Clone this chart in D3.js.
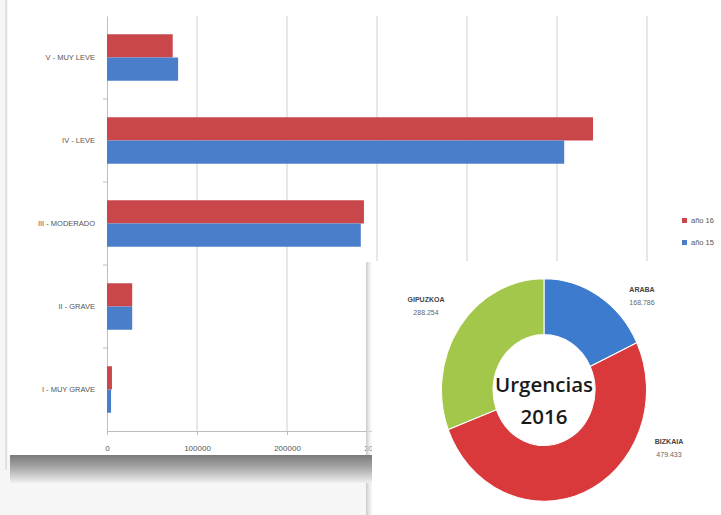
<!DOCTYPE html>
<html><head><meta charset="utf-8">
<script src="https://cdn.jsdelivr.net/npm/d3@7"></script>
<style>
html,body{margin:0;padding:0;background:#f6f6f6;}
svg{display:block;}
</style></head>
<body>
<svg id="c" width="721" height="515"></svg>
<script>
const categories = ["V - MUY LEVE","IV - LEVE","III - MODERADO","II - GRAVE","I - MUY GRAVE"];
const values16 = [73000, 540000, 285500, 28000, 5500];
const values15 = [79000, 508000, 282000, 28000, 4500];
const seriesNames = ["año 16","año 15"];
const xTicks = [0,100000,200000,300000,400000,500000,600000];
const provinces = ["ARABA","BIZKAIA","GIPUZKOA"];
const provinceValues = [168786, 479433, 288254];
const provinceLabels = ["168.786","479.433","288.254"];
const centerText = ["Urgencias","2016"];

const svg = d3.select("#c");
const red = "#c9474a", blue = "#4a7ecb";

// panel background
svg.append("rect").attr("x",8).attr("y",0).attr("width",713).attr("height",456).attr("fill","#ffffff");
// bottom shadow
const defs = svg.append("defs");
const g1 = defs.append("linearGradient").attr("id","sh").attr("x1",0).attr("y1",0).attr("x2",0).attr("y2",1);
g1.append("stop").attr("offset",0).attr("stop-color","#7a7a7a");
g1.append("stop").attr("offset",0.45).attr("stop-color","#a8a8a8");
g1.append("stop").attr("offset",1).attr("stop-color","#f0f0f0");
svg.append("line").attr("x1",6).attr("x2",6).attr("y1",0).attr("y2",470).attr("stroke","#e2e2e2").attr("stroke-width",2);

const x = d3.scaleLinear().domain([0,600000]).range([107,647]);
const y = d3.scaleBand().domain(categories).range([16,431]).paddingInner(0.44).paddingOuter(0.22);
const ys = d3.scaleBand().domain(seriesNames).range([0,y.bandwidth()]);

// gridlines
svg.append("g").selectAll("line").data(xTicks.slice(1)).join("line")
  .attr("x1",d=>x(d)).attr("x2",d=>x(d)).attr("y1",16).attr("y2",431)
  .attr("stroke","#cfcfcf").attr("stroke-width",1);

// x axis
const xa = svg.append("g").attr("transform","translate(0,431)")
  .call(d3.axisBottom(x).tickValues(xTicks).tickFormat(d3.format("d")).tickSize(4).tickPadding(10));
xa.select(".domain").attr("stroke","#bdbdbd");
xa.selectAll(".tick line").attr("stroke","#bdbdbd");
xa.selectAll("text").attr("fill","#555").attr("font-size",8).attr("font-family","Liberation Sans, Arial");

// y axis
const ya = svg.append("g").attr("transform","translate(107,0)")
  .call(d3.axisLeft(y).tickSize(0).tickPadding(12));
ya.select(".domain").attr("stroke","#bdbdbd");
ya.selectAll("text").attr("fill","#555").attr("font-size",7.5).attr("font-family","Liberation Sans, Arial");
// small separators
const seps = categories.slice(1).map((c,i)=>y(c)-y.step()*y.paddingInner()/2);
svg.append("g").selectAll("line").data(seps).join("line")
  .attr("x1",103).attr("x2",107).attr("y1",d=>d).attr("y2",d=>d).attr("stroke","#bdbdbd");

// bars
const rows = categories.map((c,i)=>({c, v:[values16[i], values15[i]]}));
const gr = svg.append("g");
rows.forEach(r=>{
  gr.selectAll(null).data(seriesNames.map((s,j)=>({s, v:r.v[j], j}))).join("rect")
    .attr("x",x(0)).attr("y",d=>y(r.c)+ys(d.s))
    .attr("width",d=>x(d.v)-x(0)).attr("height",ys.bandwidth())
    .attr("fill",d=>d.j===0?red:blue);
});

// legend
const lg = svg.append("g");
seriesNames.forEach((s,i)=>{
  lg.append("rect").attr("x",682).attr("y",218+i*22).attr("width",5).attr("height",5).attr("fill",i===0?red:blue);
  lg.append("text").attr("x",691).attr("y",223+i*22).text(s).attr("font-size",7.5).attr("fill","#555").attr("font-family","Liberation Sans, Arial");
});

// donut panel
const g2 = defs.append("linearGradient").attr("id","ls").attr("x1",0).attr("y1",0).attr("x2",1).attr("y2",0);
g2.append("stop").attr("offset",0).attr("stop-color","#c8c8c8");
g2.append("stop").attr("offset",1).attr("stop-color","#ffffff").attr("stop-opacity",0);
svg.append("rect").attr("x",366).attr("y",262).attr("width",8).attr("height",253).attr("fill","url(#ls)");
svg.append("rect").attr("x",10).attr("y",455).attr("width",362).attr("height",28).attr("fill","url(#sh)");
svg.append("rect").attr("x",372).attr("y",261).attr("width",349).attr("height",254).attr("fill","#ffffff");

const cx = 544, cy = 390;
const pieColors = ["#3d7bcf","#d9393b","#a2c74a"];
const pie = d3.pie().sort(null).value(d=>d)(provinceValues);
const arc = d3.arc().innerRadius(51).outerRadius(102.5);
const dg = svg.append("g").attr("transform",`translate(${cx},${cy}) scale(1,1.085)`);
dg.selectAll("path").data(pie).join("path")
  .attr("d",arc).attr("fill",(d,i)=>pieColors[i]).attr("stroke","#ffffff").attr("stroke-width",1);

// centre text
svg.append("g").selectAll("text").data(centerText).join("text")
  .attr("x",cx).attr("y",(d,i)=>cy+2+i*32).attr("text-anchor","middle")
  .attr("font-size",20.5).attr("font-family","Open Sans, Liberation Sans").attr("font-weight",600)
  .attr("fill","#1a1a1a").text(d=>d);

// labels
const labPos = [[642,292],[669,444],[426,302]];
provinces.forEach((p,i)=>{
  svg.append("text").attr("x",labPos[i][0]).attr("y",labPos[i][1]).attr("text-anchor","middle")
    .attr("font-size",7).attr("font-weight","bold").attr("fill","#444").attr("font-family","Liberation Sans, Arial").text(p);
  svg.append("text").attr("x",labPos[i][0]).attr("y",labPos[i][1]+13).attr("text-anchor","middle")
    .attr("font-size",7).attr("fill","#666").attr("font-family","Liberation Sans, Arial").text(provinceLabels[i]);
});
</script>
</body></html>
